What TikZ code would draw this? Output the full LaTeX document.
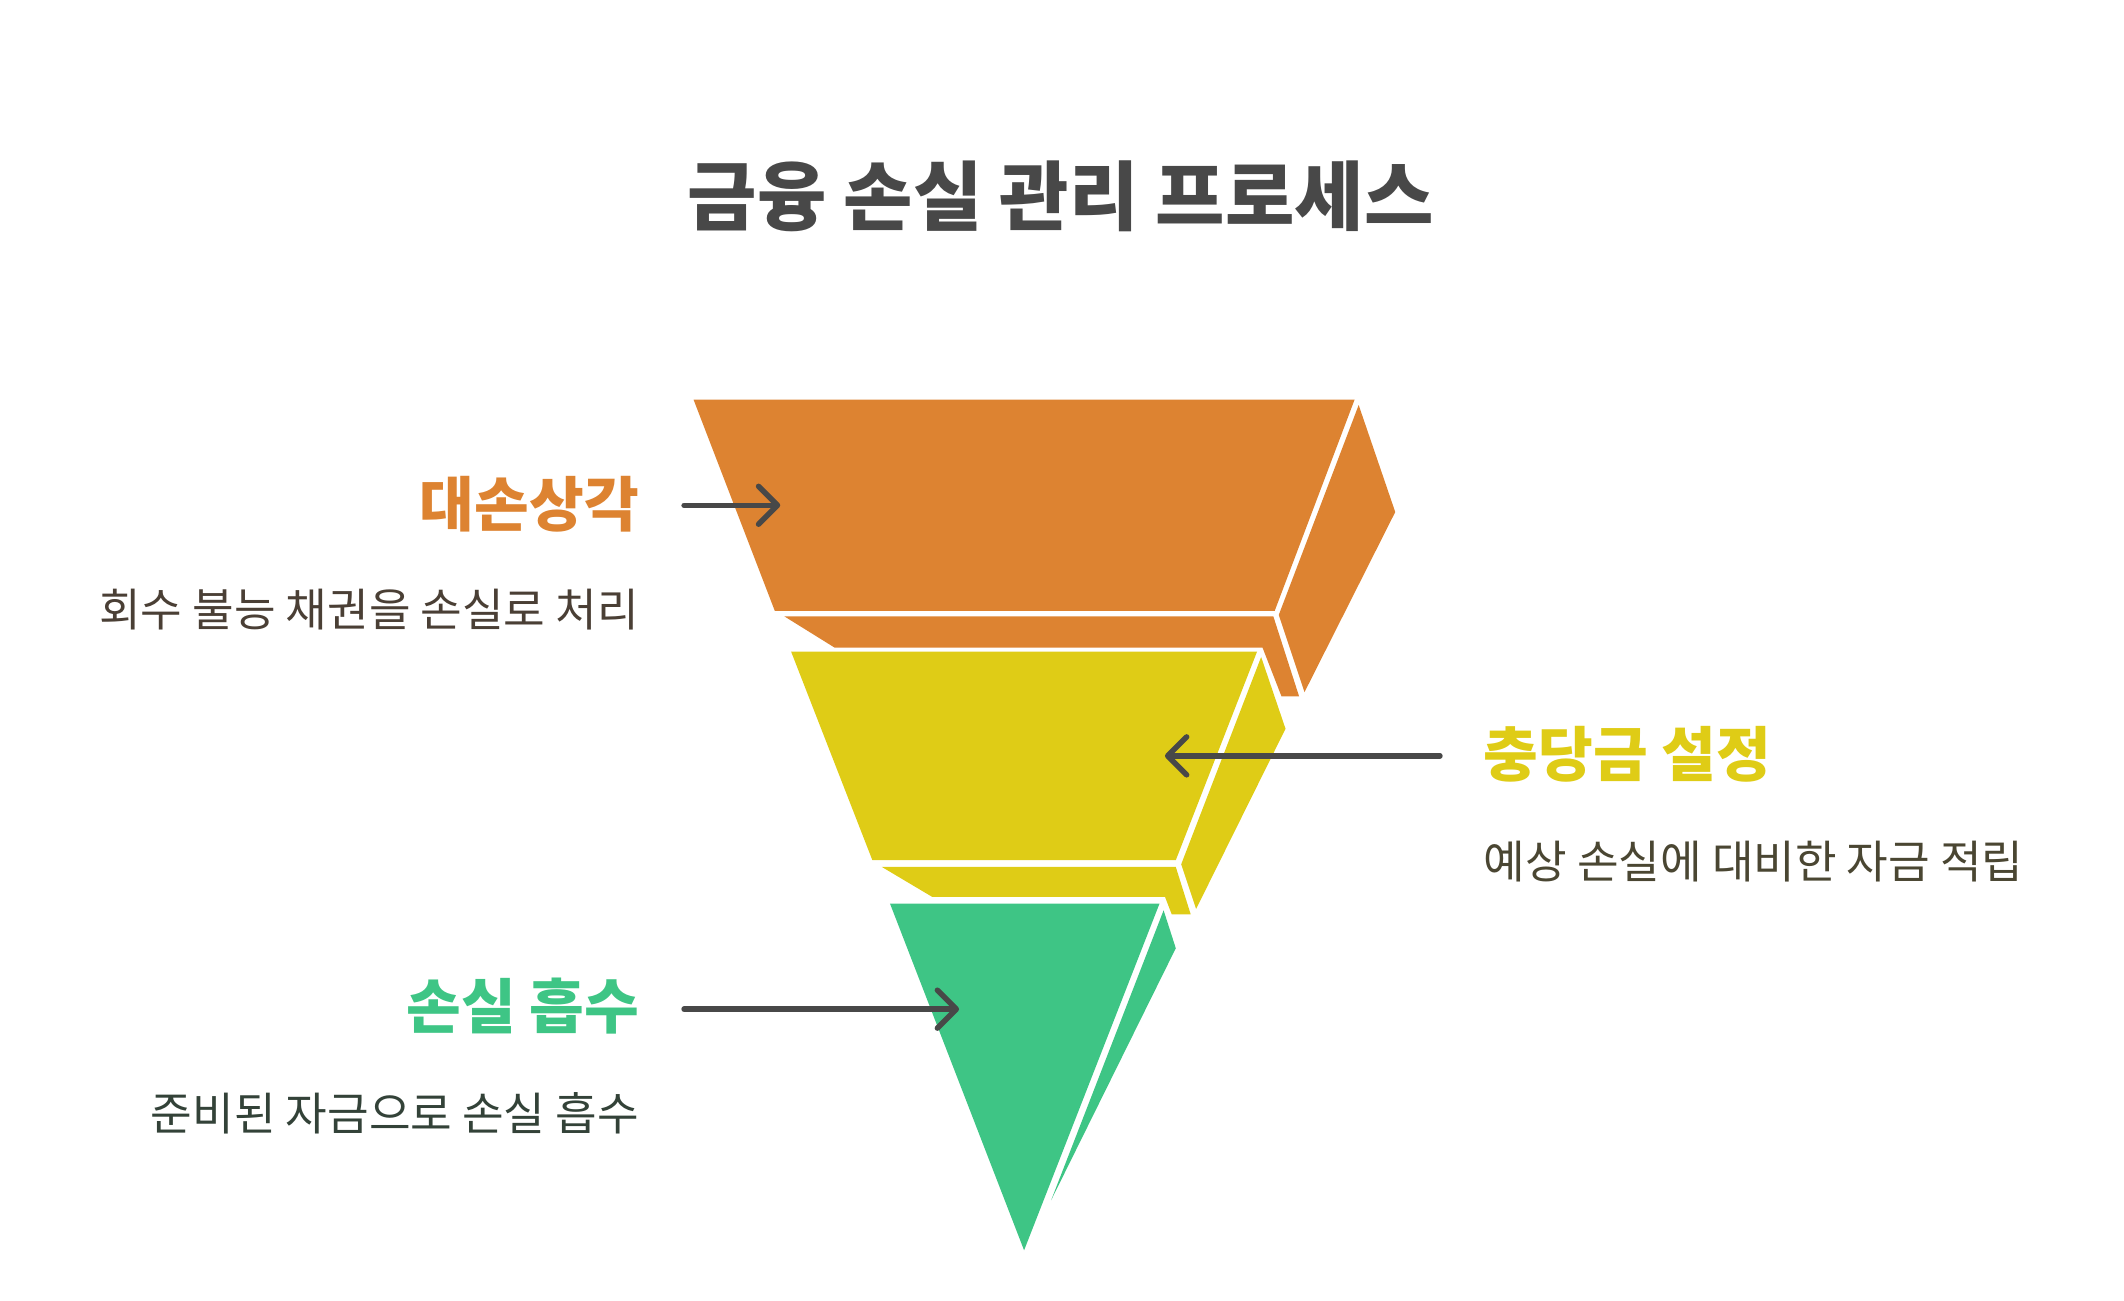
\documentclass[tikz,border=0pt]{standalone}
\usepackage{fontspec}
\usepackage{tikz}
\usetikzlibrary{arrows.meta}
\setmainfont{Noto Sans CJK KR}
\definecolor{lossorange}{HTML}{DD8331}
\definecolor{lossyellow}{HTML}{DFCC16}
\definecolor{lossgreen}{HTML}{3EC585}
\definecolor{titlegray}{HTML}{484848}
\definecolor{descbrown}{HTML}{4A3F35}
\definecolor{descolive}{HTML}{4A4632}
\definecolor{descgreen}{HTML}{334238}

\begin{document}
\begin{tikzpicture}[x=0.02cm,y=-0.02cm,
  ttl/.style={inner sep=0pt,text=titlegray,
    font=\fontsize{31.7}{38}\selectfont\bfseries},
  lab/.style={inner sep=0pt,font=\fontsize{25}{30}\selectfont\bfseries},
  desc/.style={inner sep=0pt,font=\fontsize{19}{23}\selectfont},
  arr/.style={-{Straight Barb[length=0.28cm,width=0.56cm,round]},
    line width=2.3pt,line cap=round,draw=titlegray}]

  \useasboundingbox (0,0) rectangle (1568,960);

  \node[ttl] (title) at (783,145) {금융 손실 관리 프로세스};

  % funnel layers
  \fill[lossorange] (512,295) -- (1000,295) -- (941,451) -- (572,451) -- cycle;
  \fill[lossorange] (1003,299) -- (1030,378) -- (963,511) -- (944,454) -- cycle;
  \fill[lossorange] (579,455) -- (940,455) -- (959,514) -- (946,514)
    -- (932,478) -- (616,478) -- cycle;

  \fill[lossyellow] (584,481) -- (928,481) -- (868,635) -- (644,635) -- cycle;
  \fill[lossyellow] (931,485) -- (949,538) -- (883,671) -- (872,638) -- cycle;
  \fill[lossyellow] (651,640) -- (868,640) -- (879,675) -- (865,675)
    -- (860,662) -- (688,662) -- cycle;

  \fill[lossgreen] (657,667) -- (856,667) -- (756,923) -- cycle;
  \fill[lossgreen] (859,672) -- (868,700) -- (776,886) -- cycle;

  % labels
  \node[lab,text=lossorange,anchor=east] (wolab) at (472,372) {대손상각};
  \node[desc,text=descbrown,anchor=east] (wodesc) at (472,450) {회수 불능 채권을 손실로 처리};
  \node[lab,text=lossyellow,anchor=west] (reslab) at (1095,557) {충당금 설정};
  \node[desc,text=descolive,anchor=west] (resdesc) at (1095,636) {예상 손실에 대비한 자금 적립};
  \node[lab,text=lossgreen,anchor=east] (ablab) at (472,743) {손실 흡수};
  \node[desc,text=descgreen,anchor=east] (abdesc) at (472,822) {준비된 자금으로 손실 흡수};

  \coordinate (wotip) at (576,373);
  \coordinate (restip) at (860,558);
  \coordinate (abtip) at (708,745);

  \draw[arr,shorten <=0.66cm] (wolab.east |- wotip) -- (wotip);
  \draw[arr,shorten <=0.64cm] (reslab.west |- restip) -- (restip);
  \draw[arr,shorten <=0.66cm] (ablab.east |- abtip) -- (abtip);
\end{tikzpicture}
\end{document}
